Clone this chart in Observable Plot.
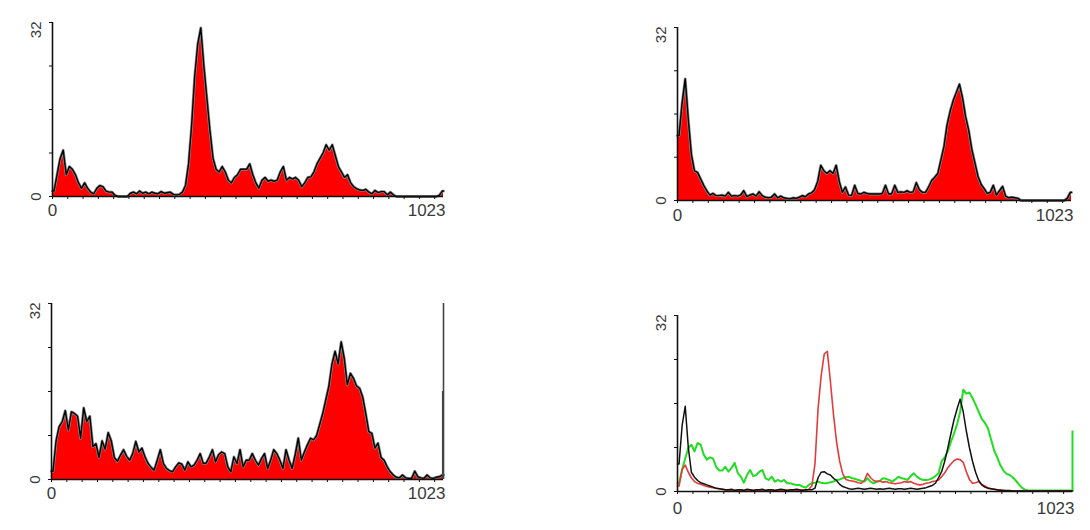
<!DOCTYPE html>
<html>
<head>
<meta charset="utf-8">
<script src="https://cdn.jsdelivr.net/npm/d3@7"></script>
<script src="https://cdn.jsdelivr.net/npm/@observablehq/plot@0.6"></script>
<style>
  html, body { margin: 0; padding: 0; background: #fff; }
  #wrap { position: relative; width: 1090px; height: 530px; overflow: hidden; }
  .panel { position: absolute; }
</style>
</head>
<body>
<div id="wrap"></div>
<script>
// ---- data: counts per 8-channel bin (channels 0..1023) ----
const binWidth = 8;
const xTickValues = d3.range(0, 1024, 40);
const yTickValues = [0, 8, 16, 24, 32];
const xTickLabels = [0, 1023];
const yTickLabels = [0, 32];

const histA = [1,4,7,8.5,4,5.5,5,4, 2.5,1.5,2.5,1.5,0.8,0.5,1.5,2, 1.8,1,0.8,0.8,0.2,0,0,0, 0,0.6,0.8,0.5,1,0.6,0.8,0.5,
  0.8,0.6,0.5,0.9,0.6,0.7,0.8,0.4, 0.3,0.4,0.8,2,6,13,22,28, 31,24,18,12,7,5,4.5,5.5, 4.5,3,2.5,3.5,4,5,5,5,
  6,4,2.5,1.5,3,3.5,2.8,3, 2.8,3,4.5,5.5,3,3.5,3.2,3.5, 3,1.8,2.5,3.5,3.6,4.5,6,7, 8,9.5,8.5,9.5,7.5,5.5,4.5,3.5,
  4,2.5,1.8,1.4,1.2,1.1,1.3,0.8, 0.5,1.1,0.7,0.9,0.9,0.3,0.8,0.3, 0,0,0,0,0,0,0,0, 0,0,0,0,0,0,0.2,1];

const histB = [12,18,22.5,15,8.5,5.5,5.2,4, 2.8,1.8,1,1.3,0.9,0.9,1,0.8, 1.5,0.8,0.9,0.8,1,1.8,0.7,1, 1.2,0.8,1.6,0.9,0.6,0.5,0.6,1.2,
  0.5,0.8,0.5,0.4,0.3,0.5,0.4,0.6, 0.9,0.7,1.2,1.4,2,3.5,6.5,5.5, 5,5.5,5,6.5,3.5,1.5,2.5,1, 0.9,2.8,1.3,1.2,1.5,1.3,1.2,1.2,
  1.2,1.2,1.3,2.8,1.2,1.2,2.8,1.5, 1.6,1.5,1.8,1.5,1.6,3.3,2,1.5, 1.5,2.5,3.7,4.3,5,7.5,10,14, 16.5,18.5,20,21.5,19,15.5,13,9.5,
  7,4.5,3,2.2,1.3,1.5,2.8,1, 1.8,2.6,0.8,0.5,0.6,0.5,0.4,0, 0,0,0,0,0,0,0,0, 0,0,0,0,0,0,0.4,1.5];

const histC = [1.5,7,9.6,10.5,12.5,9,12.3,12, 11.5,7.5,13,10.5,11.5,6,6.5,4, 7,5.5,8.5,7,4,3.3,4.4,5.4, 4.2,3.5,4.7,6.9,5,5.7,4.1,2.9,
  2.2,1.7,3.5,5.4,2.9,2,1.6,1.4, 2.3,3,2.8,1.7,3.2,2.3,2.6,3.5, 4.7,2.9,3,4.1,5.4,3.2,4.5,5, 4.7,2.3,1.4,4.1,2.9,5.4,2.3,3.5,
  3.5,4.7,3.5,2.6,3.8,4.7,2,3.5, 5.4,4.7,3.5,2,5.4,3.5,2,4.5, 7.5,3.5,5,6.3,7.5,7.2,8,10, 12,14.5,17,21,23.3,21,25,22,
  17.2,19.3,18.4,17,16.6,15,12,8.7, 8.4,5.7,6.6,4,3.5,2.3,1.4,0.8, 0.4,0.3,0.8,0.3,0.2,0.2,1.5,0.5, 0.3,0.2,0.8,0.3,0.2,0.4,0.5,0.8];
const edgeC = [{ch: 1021, n: 16}, {ch: 1023, n: 32}];

const histDblack = [5,12,15.5,8,3.5,2.6,2,1.6, 1.4,1.2,1,0.8,0.6,0.5,0.4,0.3, 0.3,0.4,0.2,0.3,0.3,0.2,0.4,0.3, 0.2,0.3,0.3,0.4,0.2,0.3,0.3,0.2,
  0.3,0.4,0.3,0.2,0.3,0.3,0.4,0.3, 0.2,0.3,0.3,0.3,0.6,2.5,3.5,3.6, 3.2,3,2.4,2,1.3,0.9,0.7,0.5, 0.4,0.5,0.6,0.5,0.4,0.5,0.6,0.5,
  0.4,0.5,0.4,0.5,0.6,0.5,0.4,0.5, 0.5,0.4,0.5,0.6,0.5,0.4,0.5,0.6, 0.7,0.9,1.1,1.5,2.5,3.6,5.5,7.9, 10.5,13,15,16.8,14.5,11,8,5.5,
  3.5,2,1.2,0.8,0.6,0.5,0.4,0.3, 0.2,0.2,0.2,0.2,0.1,0.1,0.1,0.1, 0.1,0.1,0.1,0.1,0.1,0.1,0.1,0.1, 0.1,0.1,0.1,0.1,0.1,0.1,0.1,0.1];

const histDred = [1,4,4.8,3.5,2.5,1.8,1.5,1.3, 1.1,0.9,0.8,0.7,0.6,0.5,0.4,0.3, 0.2,0.3,0.2,0.2,0.3,0.2,0.2,0.3, 0.2,0.2,0.3,0.2,0.2,0.2,0.3,0.2,
  0.2,0.3,0.2,0.2,0.2,0.3,0.2,0.2, 0.3,0.2,0.4,1,5,15,21,25, 25.5,20,14,9,5.5,3.2,2.2,2, 1.9,1.8,1.6,1.5,2,3.3,2.5,2,
  1.8,1.9,1.7,1.8,1.6,1.5,1.4,1.5, 1.6,1.8,1.7,1.8,1.5,1.3,1.2,1.3, 1.5,1.6,1.8,1.9,2.1,2.7,3.4,4.3, 5,5.6,5.9,5.8,5.3,3.6,2.2,1.5,
  1.6,1.8,1.3,1,0.7,0.5,0.4,0.3, 0.3,0.2,0.1,0.1,0.1,0.1,0.1,0.1, 0.1,0.1,0.1,0.1,0.1,0.1,0.1,0.1, 0.1,0.1,0.1,0.1,0.1,0.1,0.1,0.1];

const histDgreen = [1.5,4,6,7.9,8.5,7.3,8.8,8.5, 6.7,5.8,6.2,6,4.5,3.8,3.8,4.5, 3.6,4.3,5.2,3.4,2.7,1.6,3,3.9, 2.8,3,3.6,3.9,2.4,2.1,2.7,1.8,
  2.1,1.8,2.1,1.5,1.5,1.3,1.2,1.2, 0.9,0.7,1.2,1.5,1.6,1.8,1.6,1.5, 1.5,1.7,1.8,2.1,2.2,2.4,2.6,2.7, 2.4,2.3,2.1,1.9,1.8,2.4,1.8,1.5,
  1.8,1.9,2.4,2.3,2.1,1.8,2.2,2.7, 2.4,2.3,2.1,2.8,3.3,2.7,2.3,2.1, 2.1,2.2,2.4,2.8,3.3,5.5,6.2,7.3, 9,10.5,12.2,14.5,18.5,17.8,18,17,
  15.8,14.5,13.2,12.5,11.5,9.5,7.5,6.2, 4.8,3.8,3.2,3,2.6,2,1.3,0.7, 0.3,0.2,0.2,0.2,0.2,0.2,0.2,0.2, 0.2,0.2,0.2,0.2,0.2,0.2,0.2,0.2];
const edgeDgreen = [{ch: 1023, n: 11}];

// ---- helpers ----
function centers(arr) {
  const r = arr.map((v, i) => ({ch: i * binWidth + binWidth / 2, n: v}));
  r.unshift({ch: 0, n: arr[0]});
  r.push({ch: 1023, n: arr[arr.length - 1]});
  return r;
}

const font = "'Liberation Sans', Arial, sans-serif";

function frameMarks(labelDy) {
  return [
    Plot.axisX({ticks: xTickValues, tickSize: 3, fill: "none", stroke: "#111", strokeWidth: 1, label: null}),
    Plot.axisY({ticks: yTickValues, tickSize: 3, fill: "none", stroke: "#111", strokeWidth: 1, label: null}),
    Plot.ruleY([0], {stroke: "#111", strokeWidth: 1.6}),
    Plot.ruleX([0], {stroke: "#111", strokeWidth: 1.6}),
    Plot.text(xTickLabels.filter(d => d === 0), {x: d => d, y: 0, text: d => String(d),
      lineAnchor: "top", dy: labelDy - 1, textAnchor: "middle", fill: "#3a3a3a", fontSize: 17}),
    Plot.text(xTickLabels.filter(d => d !== 0), {x: d => d, y: 0, text: d => String(d),
      lineAnchor: "top", dy: labelDy - 1, dx: 2, textAnchor: "end", fill: "#3a3a3a", fontSize: 17}),
    Plot.text(yTickLabels.filter(d => d === 0), {x: 0, y: d => d, text: d => String(d), rotate: -90, dx: -16,
      textAnchor: "middle", lineAnchor: "middle", fill: "#3a3a3a", fontSize: 15}),
    Plot.text(yTickLabels.filter(d => d !== 0), {x: 0, y: d => d, text: d => String(d), rotate: -90, dx: -16, dy: -1,
      textAnchor: "end", lineAnchor: "middle", fill: "#3a3a3a", fontSize: 15})
  ];
}

function makePlot(marks, g) {
  return Plot.plot({
    width: g.width, height: g.height,
    marginLeft: g.ml, marginRight: g.mr, marginTop: g.mt, marginBottom: g.mb,
    x: {domain: [0, 1023], axis: null},
    y: {domain: [0, 32], axis: null},
    style: {fontFamily: font, fontSize: "16px", background: "transparent", overflow: "visible"},
    marks
  });
}

function filledPanel(data, edge, g) {
  const r = centers(data);
  const marks = [
    Plot.areaY(r, {x: "ch", y: "n", fill: "#ff0000"}),
    Plot.lineY(r, {x: "ch", y: "n", stroke: "#8a8a8a", strokeWidth: 2.8}),
    Plot.lineY(r, {x: "ch", y: "n", stroke: "#000", strokeWidth: 1.4})
  ];
  if (edge) marks.push(Plot.ruleX(edge, {x: "ch", y1: 0, y2: "n", stroke: "#444", strokeWidth: 1.6}));
  return makePlot(marks.concat(frameMarks(g.labelDy)), g);
}

const layout = {
  A: {left: 0, top: 0, width: 460, height: 225, ml: 52, mr: 17, mt: 22, mb: 29, labelDy: 8},
  B: {left: 630, top: 0, width: 460, height: 230, ml: 47, mr: 19, mt: 27, mb: 30, labelDy: 9},
  C: {left: 0, top: 280, width: 460, height: 240, ml: 51, mr: 17, mt: 23, mb: 41, labelDy: 8},
  D: {left: 630, top: 280, width: 460, height: 240, ml: 47, mr: 18, mt: 35, mb: 29, labelDy: 11}
};

const wrap = document.getElementById("wrap");
function place(svg, g) {
  const d = document.createElement("div");
  d.className = "panel";
  d.style.left = g.left + "px";
  d.style.top = g.top + "px";
  d.appendChild(svg);
  wrap.appendChild(d);
}

place(filledPanel(histA, null, layout.A), layout.A);
place(filledPanel(histB, null, layout.B), layout.B);
place(filledPanel(histC, edgeC, layout.C), layout.C);

const lineMarks = [
  Plot.lineY(centers(histDgreen), {x: "ch", y: "n", stroke: "#22dd22", strokeWidth: 2}),
  Plot.ruleX(edgeDgreen, {x: "ch", y1: 0, y2: "n", stroke: "#22dd22", strokeWidth: 2}),
  Plot.lineY(centers(histDred), {x: "ch", y: "n", stroke: "#e23b3b", strokeWidth: 1.6}),
  Plot.lineY(centers(histDblack), {x: "ch", y: "n", stroke: "#111", strokeWidth: 1.5})
];
place(makePlot(lineMarks.concat(frameMarks(layout.D.labelDy)), layout.D), layout.D);
</script>
</body>
</html>
